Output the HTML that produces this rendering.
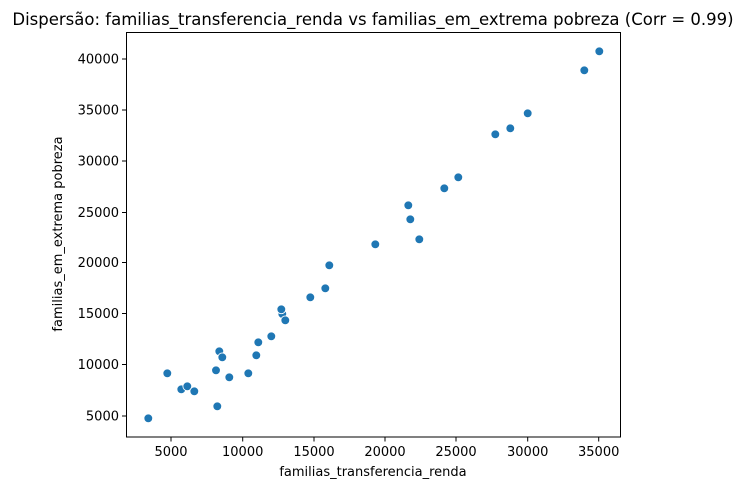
<!DOCTYPE html>
<html><head><meta charset="utf-8"><style>body{margin:0;background:#fff}</style></head>
<body>
<svg width="746" height="490" xmlns="http://www.w3.org/2000/svg" font-family="DejaVu Sans, Liberation Sans, sans-serif">
<rect width="746" height="490" fill="#fff"/>
<text x="373" y="25" font-size="16.5" text-anchor="middle" fill="#000">Dispersão: familias_transferencia_renda vs familias_em_extrema pobreza (Corr = 0.99)</text>
<g fill="#1f77b4" stroke="#fff" stroke-width="0.9">
<circle cx="148.3" cy="418.3" r="4.4"/><circle cx="167.3" cy="373.3" r="4.4"/><circle cx="181.3" cy="389.3" r="4.4"/><circle cx="187.3" cy="386.3" r="4.4"/><circle cx="194.3" cy="391.3" r="4.4"/><circle cx="216" cy="370.3" r="4.4"/><circle cx="217.3" cy="406.3" r="4.4"/><circle cx="219.3" cy="351.3" r="4.4"/><circle cx="222.3" cy="357.3" r="4.4"/><circle cx="229.3" cy="377.3" r="4.4"/><circle cx="248.3" cy="373.3" r="4.4"/><circle cx="256.3" cy="355.3" r="4.4"/><circle cx="258.3" cy="342.3" r="4.4"/><circle cx="271.3" cy="336.3" r="4.4"/><circle cx="282.3" cy="314" r="4.4"/><circle cx="281.3" cy="309.3" r="4.4"/><circle cx="285.3" cy="320.3" r="4.4"/><circle cx="310.3" cy="297.3" r="4.4"/><circle cx="325.3" cy="288.3" r="4.4"/><circle cx="329.3" cy="265.3" r="4.4"/><circle cx="375.3" cy="244.3" r="4.4"/><circle cx="408.3" cy="205.3" r="4.4"/><circle cx="410.3" cy="219.3" r="4.4"/><circle cx="419.3" cy="239.3" r="4.4"/><circle cx="444.3" cy="188.3" r="4.4"/><circle cx="458.3" cy="177.3" r="4.4"/><circle cx="495.3" cy="134.3" r="4.4"/><circle cx="510.3" cy="128.3" r="4.4"/><circle cx="527.7" cy="113.3" r="4.4"/><circle cx="584.3" cy="70.3" r="4.4"/><circle cx="599.3" cy="51.3" r="4.4"/>
</g>
<rect x="126.5" y="32.5" width="494" height="404.5" fill="none" stroke="#000" stroke-width="1"/>
<g stroke="#000" stroke-width="1">
<line x1="171" y1="437" x2="171" y2="441.5"/><line x1="242.7" y1="437" x2="242.7" y2="441.5"/><line x1="314" y1="437" x2="314" y2="441.5"/><line x1="385" y1="437" x2="385" y2="441.5"/><line x1="456" y1="437" x2="456" y2="441.5"/><line x1="527.7" y1="437" x2="527.7" y2="441.5"/><line x1="598.7" y1="437" x2="598.7" y2="441.5"/>
<line x1="122" y1="59" x2="126.5" y2="59"/><line x1="122" y1="110" x2="126.5" y2="110"/><line x1="122" y1="161" x2="126.5" y2="161"/><line x1="122" y1="212.5" x2="126.5" y2="212.5"/><line x1="122" y1="262.5" x2="126.5" y2="262.5"/><line x1="122" y1="313.5" x2="126.5" y2="313.5"/><line x1="122" y1="364.5" x2="126.5" y2="364.5"/><line x1="122" y1="416" x2="126.5" y2="416"/>
</g>
<g font-size="13" fill="#000" text-anchor="middle">
<text x="171" y="456">5000</text><text x="242.7" y="456">10000</text><text x="314" y="456">15000</text><text x="385" y="456">20000</text><text x="456" y="456">25000</text><text x="527.7" y="456">30000</text><text x="598.7" y="456">35000</text>
<text x="373" y="476">familias_transferencia_renda</text>
</g>
<g font-size="13" fill="#000" text-anchor="end">
<text x="119" y="63.5">40000</text><text x="119" y="114.5">35000</text><text x="119" y="165.5">30000</text><text x="119" y="217">25000</text><text x="119" y="267">20000</text><text x="119" y="318">15000</text><text x="119" y="369">10000</text><text x="119" y="420.5">5000</text>
</g>
<text transform="translate(62,234) rotate(-90)" font-size="13" text-anchor="middle" fill="#000">familias_em_extrema pobreza</text>
</svg>
</body></html>
